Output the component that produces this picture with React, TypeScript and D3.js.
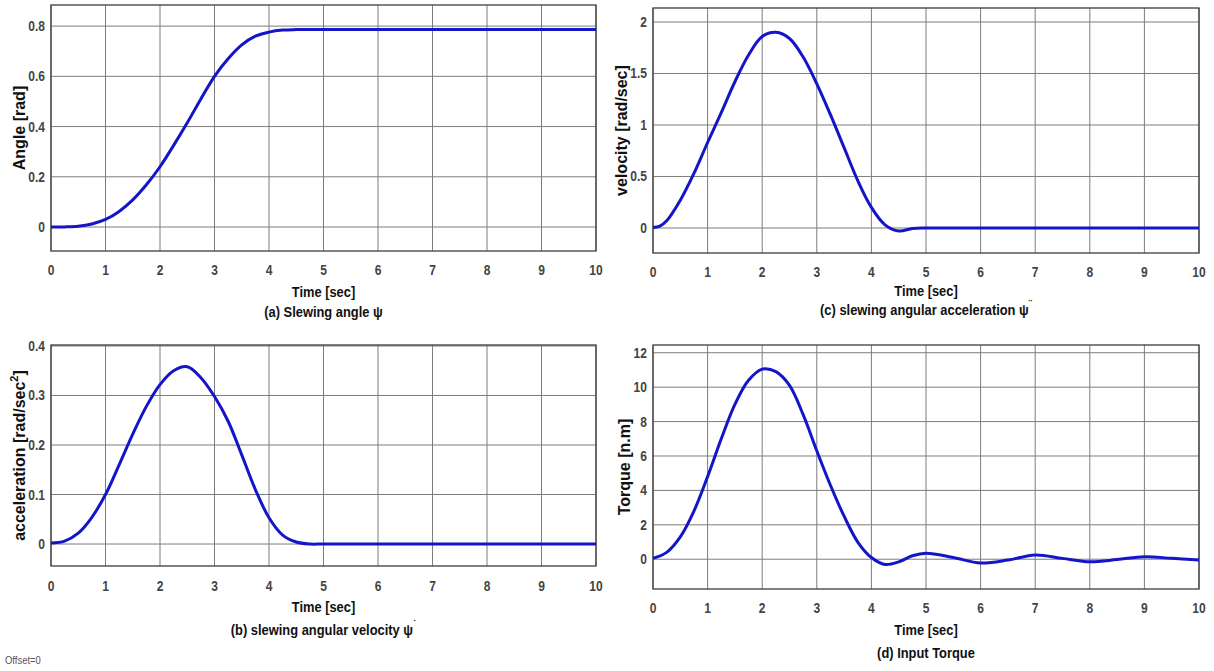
import React from "react";
import * as d3 from "d3";

// ---- data ----
const angleT = [0, 0.25, 0.5, 0.75, 1, 1.25, 1.5, 1.75, 2, 2.25, 2.5, 2.75, 3, 3.25, 3.5, 3.75, 4, 4.25, 4.5, 5, 6, 7, 8, 9, 10];
const angleV = [0, 0.0005, 0.003, 0.012, 0.03, 0.062, 0.108, 0.168, 0.24, 0.325, 0.415, 0.51, 0.6, 0.67, 0.725, 0.76, 0.776, 0.784, 0.786, 0.786, 0.786, 0.786, 0.786, 0.786, 0.786];

const velT = [0, 0.125, 0.25, 0.5, 0.75, 1, 1.25, 1.5, 1.75, 2, 2.25, 2.5, 2.75, 3, 3.25, 3.5, 3.75, 4, 4.25, 4.5, 4.75, 5, 6, 7, 8, 9, 10];
const velV = [0.005, 0.018, 0.07, 0.27, 0.53, 0.83, 1.12, 1.42, 1.68, 1.86, 1.9, 1.84, 1.66, 1.4, 1.1, 0.78, 0.46, 0.2, 0.03, -0.03, -0.005, 0, 0, 0, 0, 0, 0];

const accT = [0, 0.25, 0.5, 0.75, 1, 1.25, 1.5, 1.75, 2, 2.25, 2.5, 2.75, 3, 3.25, 3.5, 3.75, 4, 4.25, 4.5, 4.75, 5, 6, 7, 8, 9, 10];
const accV = [0.002, 0.006, 0.022, 0.054, 0.1, 0.16, 0.222, 0.278, 0.322, 0.35, 0.358, 0.336, 0.298, 0.248, 0.18, 0.11, 0.053, 0.018, 0.004, 0, 0, 0, 0, 0, 0, 0];

const torT = [0, 0.25, 0.5, 0.75, 1, 1.25, 1.5, 1.75, 2, 2.25, 2.5, 2.75, 3, 3.25, 3.5, 3.75, 4, 4.25, 4.5, 4.75, 5, 5.5, 6, 6.5, 7, 7.5, 8, 8.5, 9, 9.5, 10];
const torV = [0.05, 0.4, 1.3, 2.8, 4.8, 7.0, 9.0, 10.4, 11.05, 10.9, 10.1, 8.4, 6.3, 4.3, 2.5, 1.0, 0.1, -0.3, -0.15, 0.2, 0.35, 0.1, -0.22, -0.05, 0.25, 0.05, -0.15, -0.02, 0.15, 0.05, -0.05];

const xTicks = [0, 1, 2, 3, 4, 5, 6, 7, 8, 9, 10];
const angleTicks = [0, 0.2, 0.4, 0.6, 0.8];
const velTicks = [0, 0.5, 1, 1.5, 2];
const accTicks = [0, 0.1, 0.2, 0.3, 0.4];
const torTicks = [0, 2, 4, 6, 8, 10, 12];

const SANS = "'Liberation Sans', Arial, sans-serif";
const SX = 0.86; // horizontal squeeze to imitate a narrow bold face

function NText(props: { x: number; y: number; anchor?: string; size: number; fill?: string; weight?: string; children: React.ReactNode }) {
  return (
    <text
      transform={`translate(${props.x} ${props.y}) scale(${SX} 1)`}
      textAnchor={props.anchor || "middle"}
      fontFamily={SANS}
      fontWeight={props.weight || "bold"}
      fontSize={props.size}
      fill={props.fill || "#111"}
    >
      {props.children}
    </text>
  );
}

type PanelProps = {
  t: number[];
  v: number[];
  yDomain: [number, number];
  yTicks: number[];
  left: number;
  right: number;
  top: number;
  bottom: number;
  yLabel: React.ReactNode;
  yLabelX: number;
  xTickY: number;
  xLabelY: number;
  title: React.ReactNode;
  titleY: number;
};

function Panel(p: PanelProps) {
  const x = d3.scaleLinear().domain([0, 10]).range([p.left, p.right]);
  const y = d3.scaleLinear().domain(p.yDomain).range([p.bottom, p.top]);
  const pts: [number, number][] = p.t.map((tt, i) => [tt, p.v[i]]);
  const line = d3
    .line<[number, number]>()
    .x((d) => x(d[0]))
    .y((d) => y(d[1]))
    .curve(d3.curveCatmullRom.alpha(0.5));
  const cx = (p.left + p.right) / 2;
  const cy = (p.top + p.bottom) / 2;
  return (
    <g>
      <rect x={p.left} y={p.top} width={p.right - p.left} height={p.bottom - p.top} fill="#fff" />
      {xTicks.map((t) => (
        <line key={"gx" + t} x1={x(t)} x2={x(t)} y1={p.top} y2={p.bottom} stroke="#7d7d7d" strokeWidth={1} />
      ))}
      {p.yTicks.map((t) => (
        <line key={"gy" + t} x1={p.left} x2={p.right} y1={y(t)} y2={y(t)} stroke="#7d7d7d" strokeWidth={1} />
      ))}
      <rect x={p.left} y={p.top} width={p.right - p.left} height={p.bottom - p.top} fill="none" stroke="#3c3c3c" strokeWidth={1.3} />
      <path d={line(pts) || ""} fill="none" stroke="#1414c8" strokeWidth={3} strokeLinejoin="round" />
      {xTicks.map((t) => (
        <NText key={"tx" + t} x={x(t)} y={p.xTickY} size={14} fill="#444">
          {t}
        </NText>
      ))}
      {p.yTicks.map((t) => (
        <NText key={"ty" + t} x={p.left - 6} y={y(t) + 5} anchor="end" size={14} fill="#444">
          {d3.format("~g")(t)}
        </NText>
      ))}
      <text
        x={p.yLabelX}
        y={cy}
        transform={`rotate(-90 ${p.yLabelX} ${cy})`}
        textAnchor="middle"
        fontFamily={SANS}
        fontWeight="bold"
        fontSize={16}
        fill="#111"
      >
        {p.yLabel}
      </text>
      <NText x={cx} y={p.xLabelY} size={15}>
        Time [sec]
      </NText>
      <NText x={cx} y={p.titleY} size={15}>
        {p.title}
      </NText>
    </g>
  );
}

export default function App() {
  return (
    <svg width={1214} height={671} style={{ position: "absolute", left: 0, top: 0, background: "#fff" }}>
      <rect width={1214} height={671} fill="#fff" />
      <Panel
        t={angleT}
        v={angleV}
        yDomain={[-0.0955, 0.884]}
        yTicks={angleTicks}
        left={51}
        right={596}
        top={5}
        bottom={251}
        yLabel="Angle [rad]"
        yLabelX={25}
        xTickY={275}
        xLabelY={297}
        title="(a) Slewing angle ψ"
        titleY={317}
      />
      <Panel
        t={velT}
        v={velV}
        yDomain={[-0.243, 2.136]}
        yTicks={velTicks}
        left={653}
        right={1199}
        top={8}
        bottom={253}
        yLabel="velocity [rad/sec]"
        yLabelX={627}
        xTickY={277}
        xLabelY={296}
        title={<>(c) slewing angular acceleration ψ<tspan dy={-7} fontSize={11}>¨</tspan></>}
        titleY={315}
      />
      <Panel
        t={accT}
        v={accV}
        yDomain={[-0.0444, 0.402]}
        yTicks={accTicks}
        left={51}
        right={596}
        top={345}
        bottom={566}
        yLabel={<>acceleration [rad/sec<tspan dy={-7} fontSize={11}>2</tspan><tspan dy={7}>]</tspan></>}
        yLabelX={25}
        xTickY={591}
        xLabelY={612}
        title={<>(b) slewing angular velocity ψ<tspan dy={-7} fontSize={11}>˙</tspan></>}
        titleY={635}
      />
      <Panel
        t={torT}
        v={torV}
        yDomain={[-1.73, 12.45]}
        yTicks={torTicks}
        left={653}
        right={1199}
        top={345}
        bottom={589}
        yLabel="Torque [n.m]"
        yLabelX={630}
        xTickY={613}
        xLabelY={635}
        title="(d) Input Torque"
        titleY={658}
      />
      <g transform="translate(5 664) scale(0.86 1)">
        <text x={0} y={0} fontFamily={SANS} fontSize={11} fill="#555">
          Offset=0
        </text>
      </g>
    </svg>
  );
}
